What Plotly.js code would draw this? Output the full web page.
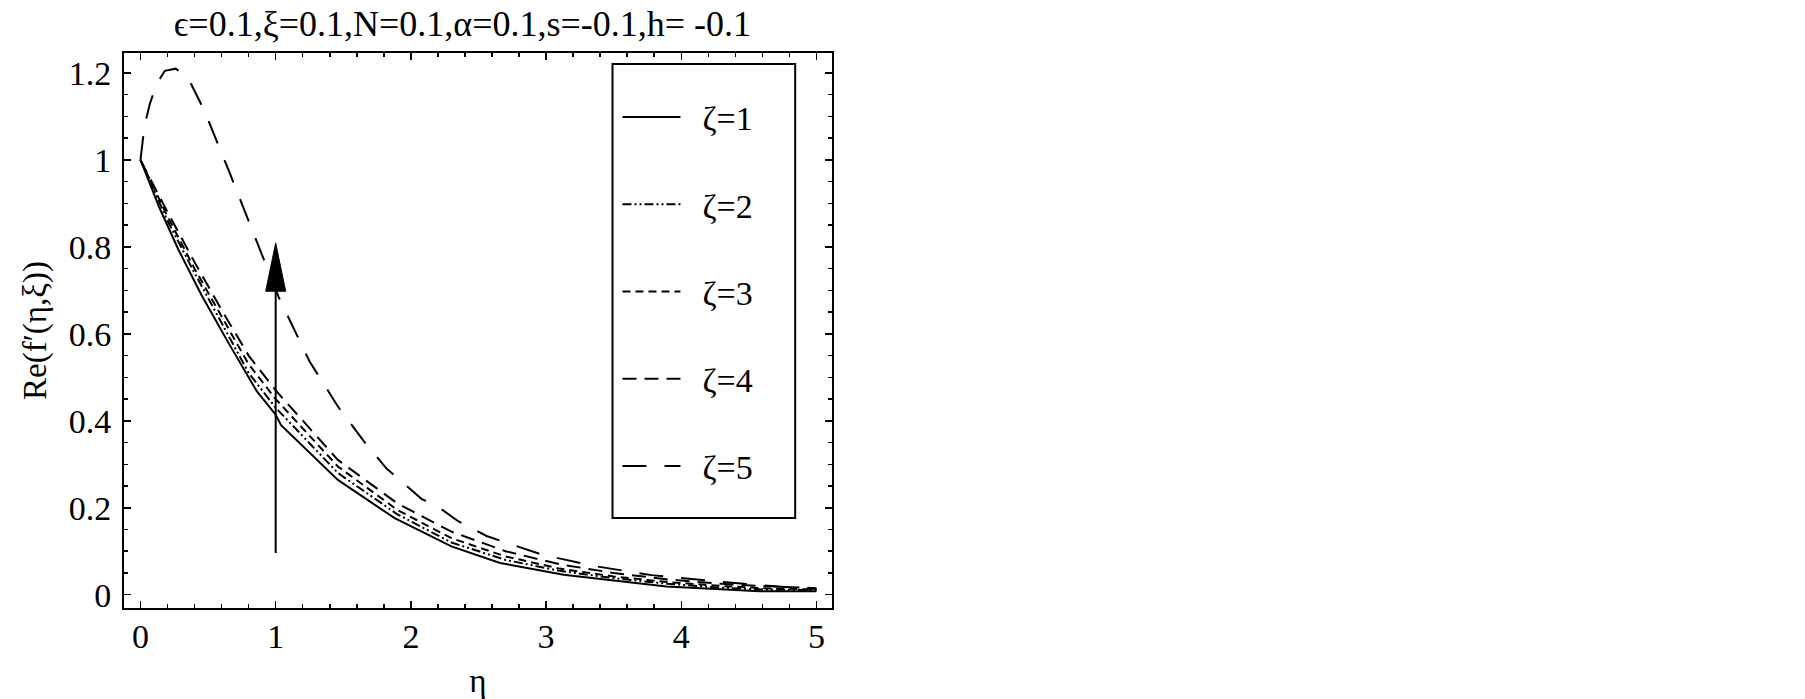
<!DOCTYPE html>
<html>
<head>
<meta charset="utf-8">
<script src="https://cdn.plot.ly/plotly-3.0.1.min.js"></script>
<style>
  html, body { margin: 0; padding: 0; background: #fff; }
  #chart { width: 1805px; height: 699px; }
</style>
</head>
<body>
<div id="chart"></div>
<script>
// values: eta on x, Re(f'(eta,xi)) on y
const eta1 = [0, 0.14, 0.28, 0.45, 0.64, 0.86, 1.0, 1.04, 1.46, 1.88, 2.3, 2.66, 3.13, 3.5, 3.89, 4.58, 5.0];
const re1  = [1.0, 0.89, 0.794, 0.69, 0.585, 0.468, 0.414, 0.39, 0.264, 0.176, 0.111, 0.073, 0.046, 0.032, 0.019, 0.008, 0.008];

const etaMid = [0, 0.2, 0.4, 0.6, 0.8, 1.0, 1.46, 1.9, 2.3, 2.7, 3.1, 3.5, 3.9, 4.3, 4.6, 5.0];
const re2 = [1.0, 0.86, 0.74, 0.625, 0.51, 0.43, 0.28, 0.185, 0.12, 0.08, 0.055, 0.038, 0.025, 0.016, 0.012, 0.01];
const re3 = [1.0, 0.87, 0.75, 0.64, 0.53, 0.45, 0.295, 0.195, 0.13, 0.088, 0.06, 0.042, 0.029, 0.02, 0.015, 0.012];
const re4 = [1.0, 0.88, 0.765, 0.655, 0.55, 0.47, 0.31, 0.21, 0.145, 0.1, 0.07, 0.05, 0.035, 0.025, 0.02, 0.015];

const eta5 = [0, 0.03, 0.07, 0.12, 0.18, 0.26, 0.35, 0.47, 0.66, 0.85, 1.02, 1.25, 1.46, 1.66, 1.82, 2.08, 2.18, 2.35, 2.56, 2.97, 3.375, 3.78, 4.21, 4.71, 5.0];
const re5  = [1.0, 1.08, 1.13, 1.175, 1.205, 1.21, 1.19, 1.115, 0.97, 0.82, 0.686, 0.537, 0.433, 0.35, 0.29, 0.22, 0.207, 0.169, 0.135, 0.092, 0.065, 0.045, 0.032, 0.019, 0.013];

const names = ['ζ=1', 'ζ=2', 'ζ=3', 'ζ=4', 'ζ=5'];

// arrow (increasing zeta)
const arrowX = 1;
const arrowFrom = 0.096;
const arrowTip = 0.809;
const arrowBase = 0.698;
const arrowHalf = 0.074;

const serif = 'Liberation Serif, Times New Roman, serif';

const dashes = ['solid', '9px,3px,2px,3px,2px,3px', '8px,5px', '14px,8px', '24px,18px'];
const xs = [eta1, etaMid, etaMid, etaMid, eta5];
const ys = [re1, re2, re3, re4, re5];

const traces = names.map((n, i) => ({
    x: xs[i],
    y: ys[i],
    mode: 'lines',
    name: '\u00a0\u00a0' + n,
    legendgroup: 'g' + i,
    line: { color: '#000', width: 2, dash: dashes[i] },
    hoverinfo: 'skip'
}));

const axisCommon = {
    showgrid: false,
    zeroline: false,
    showline: true,
    linecolor: '#000',
    linewidth: 2,
    mirror: 'ticks',
    ticks: 'inside',
    tickcolor: '#000',
    tickwidth: 1.5,
    ticklen: 7,
    tickfont: { family: serif, size: 34, color: '#000' }
};

const layout = {
    width: 1805,
    height: 699,
    margin: { l: 124, r: 973, t: 53, b: 91 },
    paper_bgcolor: '#fff',
    plot_bgcolor: '#fff',
    showlegend: true,
    title: {
        text: 'ϵ=0.1,ξ=0.1,N=0.1,α=0.1,s=-0.1,h= -0.1',
        font: { family: serif, size: 36, color: '#000' },
        x: 0.478, xref: 'paper', xanchor: 'center',
        y: 0.967, yref: 'container', yanchor: 'middle'
    },
    xaxis: Object.assign({}, axisCommon, {
        range: [-0.122, 5.115],
        dtick: 1,
        tick0: 0,
        ticklabelstandoff: -3,
        minor: { dtick: 0.2, ticks: 'inside', ticklen: 4, tickcolor: '#000', tickwidth: 1.5 },
        title: { text: 'η', font: { family: serif, size: 33, color: '#000' }, standoff: 20 }
    }),
    yaxis: Object.assign({}, axisCommon, {
        range: [-0.0306, 1.246],
        dtick: 0.2,
        tick0: 0,
        ticklabelstandoff: 4,
        minor: { dtick: 0.05, ticks: 'inside', ticklen: 4, tickcolor: '#000', tickwidth: 1.5 },
        title: { text: 'Re(f′(η,ξ))', font: { family: serif, size: 33, color: '#000' }, standoff: 12 }
    }),
    legend: {
        x: 0.697, y: 0.936, xanchor: 'left', yanchor: 'top',
        bgcolor: 'rgba(0,0,0,0)',
        borderwidth: 0,
        traceorder: 'grouped',
        tracegroupgap: 40,
        itemwidth: 58,
        font: { family: serif, size: 34, color: '#000' }
    },
    shapes: [
        // legend frame
        { type: 'rect', xref: 'paper', yref: 'paper', x0: 0.690, x1: 0.948, y0: 0.162, y1: 0.980,
          line: { color: '#000', width: 2 }, fillcolor: 'rgba(0,0,0,0)' },
        // arrow shaft and head
        { type: 'line', xref: 'x', yref: 'y', x0: arrowX, x1: arrowX, y0: arrowFrom, y1: arrowBase + 0.01,
          line: { color: '#000', width: 2 } },
        { type: 'path', xref: 'x', yref: 'y',
          path: 'M ' + (arrowX - arrowHalf) + ',' + arrowBase + ' L ' + (arrowX + arrowHalf) + ',' + arrowBase +
                ' L ' + arrowX + ',' + arrowTip + ' Z',
          fillcolor: '#000', line: { color: '#000', width: 1 } }
    ]
};

Plotly.newPlot('chart', traces, layout, { staticPlot: true });
</script>
</body>
</html>
